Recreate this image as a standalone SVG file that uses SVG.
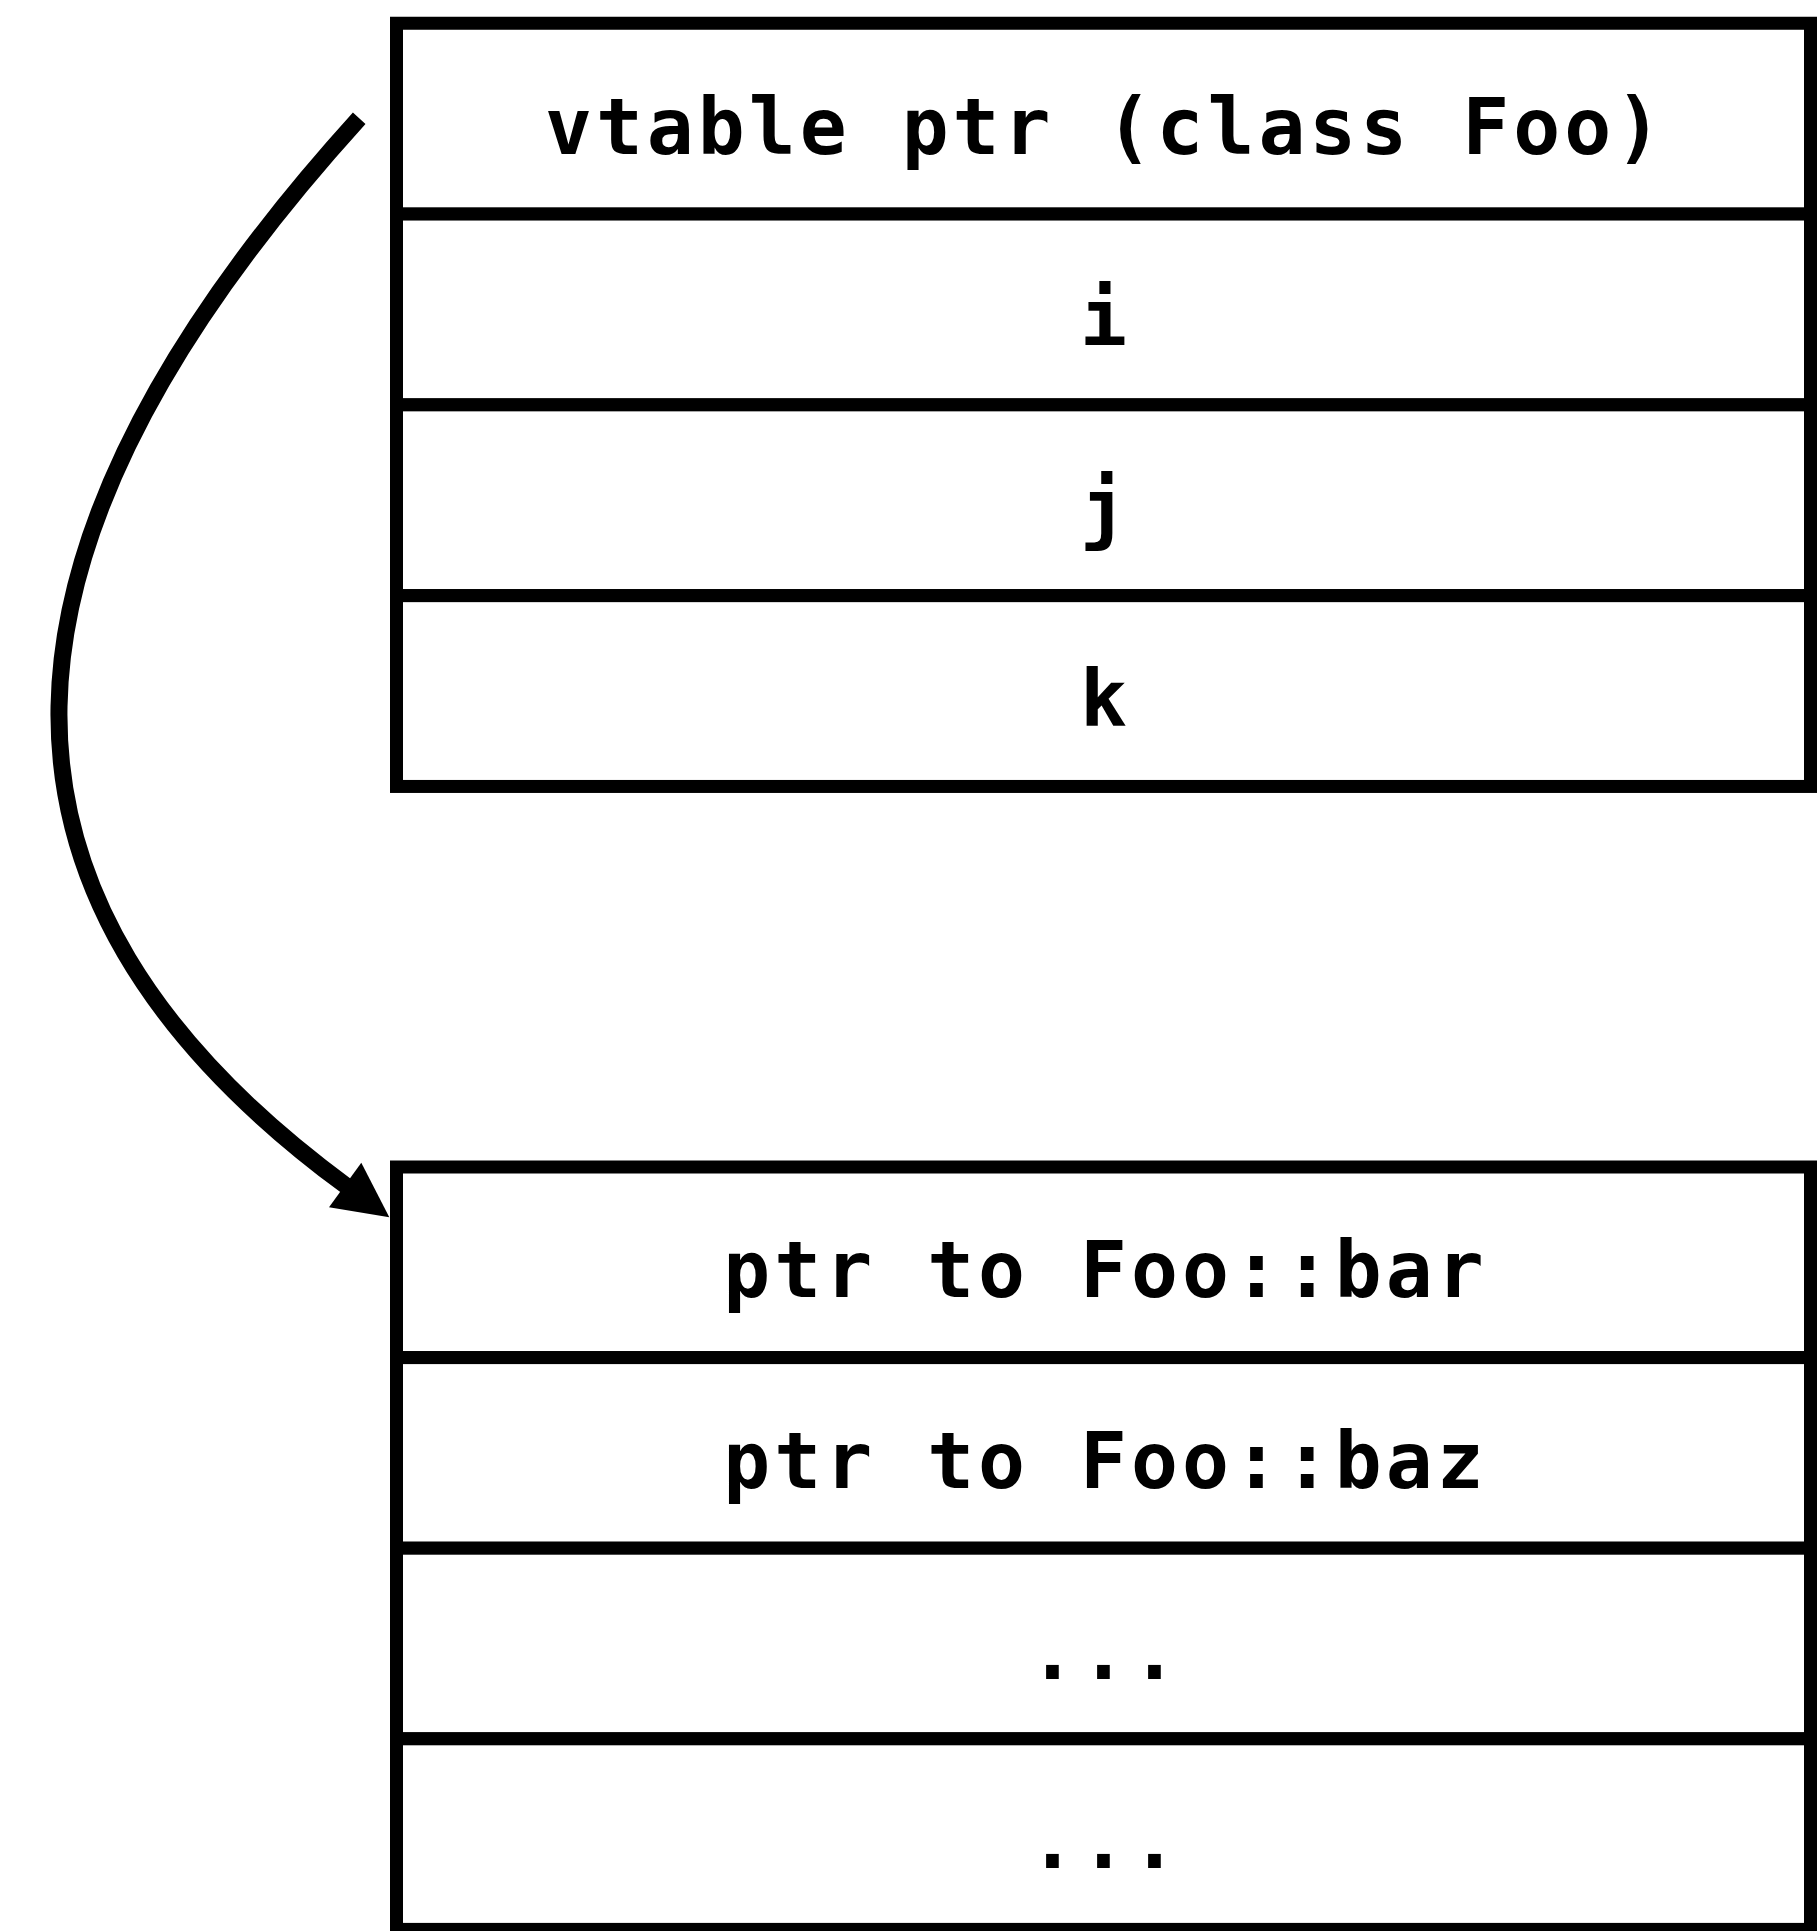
<svg xmlns="http://www.w3.org/2000/svg" width="1819" height="1931" viewBox="0 0 1819 1931">
  <style>
    .cell { fill: #ffffff; stroke: #000000; stroke-width: 13; }
    .lbl { font-family: "DejaVu Sans Mono", "Liberation Mono", monospace; font-weight: bold; font-size: 78px; letter-spacing: 4px; text-anchor: middle; fill: #000000; }
    .conn { fill: none; stroke: #000000; stroke-width: 17; }
  </style>
  <rect x="0" y="0" width="1819" height="1931" fill="#ffffff"/>
  <g id="object-foo">
    <rect class="cell" x="396.5" y="23.25" width="1414" height="190.8"/>
    <rect class="cell" x="396.5" y="214.05" width="1414" height="190.8"/>
    <rect class="cell" x="396.5" y="404.85" width="1414" height="190.8"/>
    <rect class="cell" x="396.5" y="595.65" width="1414" height="190.8"/>
    <text class="lbl" x="1105.5" y="154">vtable ptr (class Foo)</text>
    <text class="lbl" x="1105.5" y="345">i</text>
    <text class="lbl" x="1105.5" y="535">j</text>
    <text class="lbl" x="1105.5" y="726">k</text>
  </g>
  <g id="vtable-foo">
    <rect class="cell" x="396.5" y="1167" width="1414" height="190.6"/>
    <rect class="cell" x="396.5" y="1357.6" width="1414" height="190.6"/>
    <rect class="cell" x="396.5" y="1548.2" width="1414" height="190.6"/>
    <rect class="cell" x="396.5" y="1738.8" width="1414" height="190.6"/>
    <text class="lbl" x="1105.5" y="1297">ptr to Foo::bar</text>
    <text class="lbl" x="1105.5" y="1488">ptr to Foo::baz</text>
    <text class="lbl" x="1105.5" y="1679">...</text>
    <text class="lbl" x="1105.5" y="1868">...</text>
  </g>
  <g id="connectors">
    <path class="conn" d="M359.2,118.3 C-32,550 -46,898 347,1186.5"/>
    <polygon points="389.3,1217.3 361.3,1162.7 329,1207.3" fill="#000000"/>
  </g>
</svg>
